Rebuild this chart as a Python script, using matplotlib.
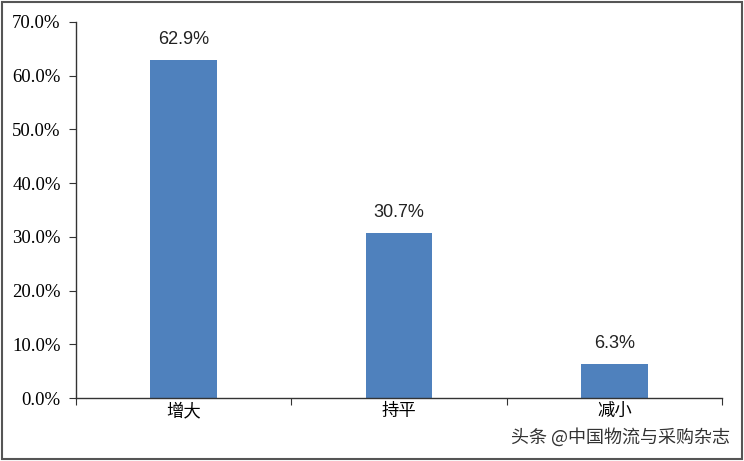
import matplotlib
matplotlib.use("Agg")
import matplotlib.pyplot as plt
from matplotlib.patches import Rectangle

categories = ["增大", "持平", "减小"]
values = [62.9, 30.7, 6.3]
yticks = [0, 10, 20, 30, 40, 50, 60, 70]

plt.rcParams['font.family'] = ['Liberation Serif', 'Noto Sans CJK SC']

fig = plt.figure(figsize=(7.44, 4.61), dpi=100)
ax = fig.add_axes([76/744, 1-398/461, (722-76)/744, (398-22)/461])

x = list(range(len(categories)))
ax.bar(x, values, width=0.31, color="#4F81BD", zorder=2)
for xi, v in zip(x, values):
    ax.text(xi, v + 2.3, f"{v:.1f}%", ha="center", va="bottom", fontsize=13,
            family=['Liberation Sans', 'DejaVu Sans'], color="#222222")

ax.set_xlim(-0.5, len(categories) - 0.5)
ax.set_ylim(0, 70)
ax.set_yticks(yticks)
ax.set_yticklabels([f"{t:.1f}%" for t in yticks], fontsize=13.5)
ax.set_xticks([i - 0.5 for i in range(len(categories) + 1)])
ax.set_xticklabels([])
ax.set_xticks(x, minor=True)
ax.set_xticklabels(categories, minor=True, fontsize=12.5,
                   family=['Noto Sans CJK SC', 'DejaVu Sans'])
ax.tick_params(axis='x', which='minor', length=0, pad=3)
ax.tick_params(axis='x', which='major', length=5, direction='out', color="#333333")
ax.tick_params(axis='y', length=5, direction='out', color="#333333", pad=6)
for s in ["top", "right"]:
    ax.spines[s].set_visible(False)
for s in ["left", "bottom"]:
    ax.spines[s].set_color("#333333")
    ax.spines[s].set_linewidth(1.0)

fig.text(730/744, 1-437/461, "头条 @中国物流与采购杂志", ha="right", va="center",
         fontsize=13, color="#333333", family=['Noto Sans CJK SC', 'DejaVu Sans'])

fig.patches.append(Rectangle((0.003, 0.005), 0.994, 0.99, transform=fig.transFigure,
                             fill=False, edgecolor="#555555", linewidth=1.5))

fig.savefig("out.png", dpi=100)
